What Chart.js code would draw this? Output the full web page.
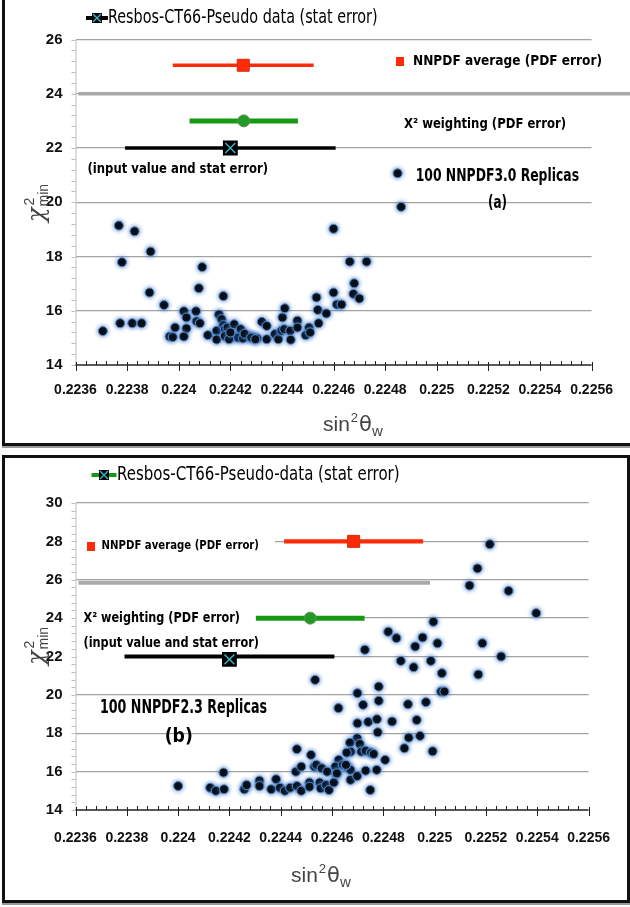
<!DOCTYPE html>
<html><head><meta charset="utf-8">
<script src="https://cdn.jsdelivr.net/npm/chart.js@4.4.1/dist/chart.umd.min.js"></script>
<style>
html,body{margin:0;padding:0;background:#fff;}
body{width:630px;height:907px;position:relative;overflow:hidden;}
canvas{position:absolute;left:0;}
.fr{position:absolute;pointer-events:none;background:#111;}
</style></head>
<body>
<canvas id="ca" width="630" height="443" style="top:0"></canvas>
<canvas id="cb" width="630" height="440" style="top:459px"></canvas>
<div class="fr" style="left:2px;top:0;width:3px;height:446px"></div>
<div class="fr" style="left:2px;top:443px;width:628px;height:3px"></div>
<div class="fr" style="left:2px;top:446px;width:628px;height:2px;background:#9a9a9a"></div>
<div class="fr" style="left:2px;top:455px;width:628px;height:3px"></div>
<div class="fr" style="left:2px;top:455px;width:3px;height:448px"></div>
<div class="fr" style="left:627px;top:455px;width:3px;height:448px"></div>
<div class="fr" style="left:2px;top:900px;width:628px;height:3px"></div>
<div class="fr" style="left:2px;top:903px;width:628px;height:2px;background:#9a9a9a"></div>
<script>
// ---------- data ----------
const xMin = 0.2236, xMax = 0.2256, xStep = 0.0002;
const yRangeA = [14, 26];
const yRangeB = [14, 30];

const replicasAx = [0.223706,0.223773,0.223820,0.223856,0.223887,0.223943,0.223965,0.223977,0.223986,0.224020,0.224030,0.224030,0.224020,0.224078,0.224067,0.224069,0.224082,0.224173,0.224113,0.224147,0.224147,0.224156,0.224166,0.224173,0.224179,0.224189,0.224179,0.224215,0.224212,0.224240,0.224230,0.224266,0.224288,0.224304,0.224322,0.224195,0.224249,0.224200,0.224255,0.224281,0.224297,0.224341,0.224341,0.224373,0.224386,0.224398,0.224409,0.224402,0.224411,0.224432,0.224434,0.224460,0.224460,0.224492,0.224505,0.224509,0.224534,0.224539,0.224542,0.224572,0.224600,0.224613,0.224631,0.224680,0.224677,0.224700,0.223768,0.223780,0.223829,0.223891,0.224091,0.224600,0.224663,0.224728,0.224862];
const replicasAy = [15.25,15.54,15.54,15.54,16.67,16.21,15.05,15.03,15.38,15.98,15.75,15.35,15.05,16.83,15.98,15.61,15.54,16.54,15.10,15.26,14.94,15.86,15.69,15.47,15.32,15.38,15.07,15.50,15.05,15.32,15.01,15.07,15.01,14.98,15.59,14.95,14.98,15.20,15.15,15.01,14.95,15.44,14.95,15.14,14.95,15.26,15.32,15.75,16.09,15.26,14.93,15.63,15.38,15.10,15.38,15.20,16.49,16.03,15.54,15.90,16.67,16.23,16.23,17.01,16.62,16.45,19.14,17.79,18.93,18.18,17.61,19.02,17.81,17.81,19.83];

const replicasBx = [0.225215,0.225167,0.225136,0.225288,0.225396,0.224995,0.224819,0.224851,0.224953,0.224924,0.225011,0.225186,0.224728,0.224868,0.224985,0.224918,0.225259,0.225028,0.225170,0.224782,0.225025,0.225038,0.224534,0.224699,0.224782,0.224896,0.224966,0.224625,0.224721,0.224699,0.224741,0.224775,0.224778,0.224834,0.224930,0.224899,0.224943,0.224882,0.224992,0.224698,0.224670,0.224708,0.224673,0.224657,0.224714,0.224731,0.224752,0.224762,0.224807,0.224626,0.224613,0.224642,0.224657,0.224672,0.224617,0.224672,0.224698,0.224731,0.224774,0.224749,0.224000,0.224125,0.224147,0.224179,0.224177,0.224258,0.224267,0.224317,0.224317,0.224363,0.224382,0.224397,0.224416,0.224437,0.224463,0.224459,0.224480,0.224463,0.224480,0.224518,0.224512,0.224512,0.224531,0.224539,0.224552,0.224556,0.224560,0.224581,0.224577,0.224588,0.224607,0.224619,0.224654];
const replicasBy = [27.85,26.59,25.70,25.42,24.26,23.81,23.29,22.96,22.99,22.52,22.69,22.69,22.35,21.77,21.77,21.44,22.00,21.13,21.06,20.43,20.17,20.17,20.78,20.09,19.69,19.51,19.62,19.31,19.48,18.52,18.59,18.73,18.05,18.61,18.69,17.77,17.86,17.22,17.06,17.74,17.51,17.44,17.04,16.99,17.04,17.09,16.99,16.92,16.61,16.61,16.26,16.35,16.26,16.09,15.88,15.57,15.77,16.05,16.09,15.04,15.25,15.16,15.00,15.08,15.95,15.08,15.30,15.53,15.25,15.08,15.60,15.16,15.00,15.16,17.17,16.00,16.26,15.25,15.00,16.87,15.43,15.21,16.26,16.35,15.43,15.13,16.17,16.00,15.30,15.04,15.43,15.91,16.35];

// summary points: [NNPDF average, chi2 weighting, input value]
const summaryNames = ['NNPDF average (PDF error)', 'χ² weighting (PDF error)', 'input value and stat error'];
const centerA = [0.224250, 0.224252, 0.224200];
const halfErrA = [0.000273, 0.000210, 0.000408];
const levelA = [25.05, 23.0, 22.0];
const centerB = [0.224684, 0.224515, 0.224200];
const halfErrB = [0.000271, 0.000212, 0.000409];
const levelB = [28.0, 24.0, 22.0];
const markerLevelB = [28.0, 24.0, 21.85];

// ---------- drawing ----------
const FN = '"Liberation Sans Narrow","DejaVu Sans Condensed","Liberation Sans",sans-serif';
const TICKF = '"Liberation Sans","Arial",sans-serif';
const RED = '#ff2a08', GREEN = '#169a16', CYAN = '#3cb6c8', GRID = '#a3a3a3';

function fitText(ctx, txt, x0, x1, y, font, color) {
  ctx.save();
  ctx.font = font; ctx.fillStyle = color || '#000';
  ctx.textAlign = 'left'; ctx.textBaseline = 'middle';
  const w = ctx.measureText(txt).width;
  ctx.translate(x0, y); ctx.scale((x1 - x0) / w, 1);
  ctx.fillText(txt, 0, 0);
  ctx.restore();
}
function xBox(ctx, x, y, s) {
  ctx.save();
  ctx.fillStyle = '#000'; ctx.fillRect(x - s / 2, y - s / 2, s, s);
  ctx.strokeStyle = CYAN; ctx.lineWidth = 1.4;
  ctx.beginPath();
  ctx.moveTo(x - s / 2 + 1, y - s / 2 + 1); ctx.lineTo(x + s / 2 - 1, y + s / 2 - 1);
  ctx.moveTo(x + s / 2 - 1, y - s / 2 + 1); ctx.lineTo(x - s / 2 + 1, y + s / 2 - 1);
  ctx.stroke(); ctx.restore();
}
function dot(ctx, x, y) {
  ctx.save();
  ctx.shadowColor = 'rgba(60,120,200,0.9)'; ctx.shadowBlur = 4;
  ctx.fillStyle = '#000'; ctx.strokeStyle = '#5b8cc4'; ctx.lineWidth = 1;
  ctx.beginPath(); ctx.arc(x, y, 4.5, 0, Math.PI * 2); ctx.fill(); ctx.stroke();
  ctx.restore();
}

function panelPlugin(cfg) {
  return {
    id: 'panel' + cfg.id,
    beforeDatasetsDraw(chart) {
      const { ctx, chartArea: ca, scales: { x, y } } = chart;
      ctx.save();
      // white masks behind labels
      ctx.fillStyle = '#fff';
      cfg.masks.forEach(m => {
        const py = y.getPixelForValue(m.v);
        ctx.fillRect(ca.left + 1, py - 3, m.x1 - ca.left - 1, 6);
      });
      // thick gray line
      const t = cfg.thick;
      const ty = y.getPixelForValue(t.v) + t.dy;
      ctx.strokeStyle = '#a9a9a9'; ctx.lineWidth = t.w;
      ctx.beginPath(); ctx.moveTo(ca.left + 3, ty); ctx.lineTo(t.x1, ty); ctx.stroke();
      // y axis line + minor ticks
      ctx.strokeStyle = '#bdbdbd'; ctx.lineWidth = 1;
      ctx.beginPath(); ctx.moveTo(ca.left + 0.5, ca.top); ctx.lineTo(ca.left + 0.5, ca.bottom); ctx.stroke();
      const [ymn, ymx] = [y.min, y.max];
      ctx.beginPath();
      for (let k = 0; k <= (ymx - ymn) / 0.4 + 0.01; k++) {
        const py = Math.round(y.getPixelForValue(ymn + k * 0.4)) + 0.5;
        ctx.moveTo(ca.left - 4, py); ctx.lineTo(ca.left, py);
      }
      ctx.stroke();
      // x axis line + ticks
      ctx.strokeStyle = '#222'; ctx.lineWidth = 1.5;
      ctx.beginPath(); ctx.moveTo(ca.left, ca.bottom); ctx.lineTo(ca.right, ca.bottom); ctx.stroke();
      ctx.lineWidth = 1;
      ctx.beginPath();
      const nMinor = Math.round((xMax - xMin) / (xStep / 5));
      for (let k = 0; k <= nMinor; k++) {
        const px = Math.round(x.getPixelForValue(xMin + k * xStep / 5)) + 0.5;
        if (k % 5 === 0) { ctx.moveTo(px, ca.bottom - 3); ctx.lineTo(px, ca.bottom + 6); }
        else { ctx.moveTo(px, ca.bottom - 4); ctx.lineTo(px, ca.bottom); }
      }
      ctx.stroke();
      ctx.restore();
    },
    beforeDatasetDraw(chart, args) {
      if (args.meta._dataset.isReplica) {
        chart.ctx.save();
        chart.ctx.shadowColor = 'rgba(60,120,200,0.9)';
        chart.ctx.shadowBlur = 4;
      }
    },
    afterDatasetDraw(chart, args) {
      if (args.meta._dataset.isReplica) chart.ctx.restore();
    },
    afterDraw(chart) {
      const ctx = chart.ctx;
      // legend
      const L = cfg.legend;
      ctx.save();
      ctx.strokeStyle = L.color; ctx.lineWidth = 4;
      ctx.beginPath(); ctx.moveTo(L.m0, L.y); ctx.lineTo(L.m1, L.y); ctx.stroke();
      ctx.restore();
      xBox(ctx, (L.m0 + L.m1) / 2, L.y, 10);
      fitText(ctx, L.text, L.t0, L.t1, L.y, '19px ' + FN, '#000');
      // text labels
      cfg.labels.forEach(l => fitText(ctx, l.text, l.x0, l.x1, l.y, l.font, '#000'));
      // red legend square
      ctx.fillStyle = RED;
      ctx.fillRect(cfg.redSq[0] - 4, cfg.redSq[1] - 4, 8, 9);
      if (cfg.dot) dot(ctx, cfg.dot[0], cfg.dot[1]);
      // x title
      const xt = cfg.xTitle;
      ctx.save();
      ctx.fillStyle = '#444'; ctx.textBaseline = 'alphabetic'; ctx.textAlign = 'left';
      let cx = xt.x, by = xt.y + 7;
      ctx.font = '21px "Liberation Sans",sans-serif';
      ctx.fillText('sin', cx, by); cx += ctx.measureText('sin').width;
      ctx.font = '13px "Liberation Sans",sans-serif';
      ctx.fillText('2', cx + 1, by - 9); cx += ctx.measureText('2').width + 2;
      ctx.font = '21px "DejaVu Sans",sans-serif';
      ctx.fillText('θ', cx, by); cx += ctx.measureText('θ').width;
      ctx.font = '15px "Liberation Sans",sans-serif';
      ctx.fillText('w', cx, by + 5);
      ctx.restore();
      // y title
      const yt = cfg.yTitle;
      ctx.save();
      ctx.translate(yt.x, yt.y); ctx.rotate(-Math.PI / 2);
      ctx.fillStyle = '#444'; ctx.textBaseline = 'alphabetic'; ctx.textAlign = 'left';
      ctx.font = 'italic 24px "DejaVu Serif",serif';
      ctx.fillText('χ', -20, 8);
      const w = ctx.measureText('χ').width;
      ctx.font = '14px "Liberation Sans",sans-serif';
      ctx.fillText('2', -20 + w + 2, -2);
      ctx.fillText('min', -20 + w + 1, 12);
      ctx.restore();
    }
  };
}

function buildChart(id, cfg) {
  const datasets = [
    { label: 'avg', data: [{ x: cfg.center[0], y: cfg.mlevel[0] }], pointStyle: 'rect', pointRadius: 8.5,
      backgroundColor: RED, borderColor: '#d33010', borderWidth: 1, order: 0 },
    { label: 'w', data: [{ x: cfg.center[1], y: cfg.mlevel[1] }], pointStyle: 'circle', pointRadius: 6,
      backgroundColor: '#239a23', borderColor: '#5e8e5e', borderWidth: 1, order: 0 },
    { label: 'inbox', data: [{ x: cfg.center[2], y: cfg.mlevel[2] }], pointStyle: 'rect', pointRadius: 10.5,
      backgroundColor: '#000', borderColor: '#000', borderWidth: 0, order: 0 },
    { label: 'inx', data: [{ x: cfg.center[2], y: cfg.mlevel[2] }], pointStyle: 'crossRot', pointRadius: 7,
      backgroundColor: CYAN, borderColor: CYAN, borderWidth: 1.4, order: -1 },
  ];
  const barColors = [RED, GREEN, '#000'];
  const barWidths = cfg.barW;
  cfg.center.forEach((c, i) => datasets.push({
    type: 'line', label: 'bar' + i,
    data: [{ x: c - cfg.half[i], y: cfg.level[i] }, { x: c + cfg.half[i], y: cfg.level[i] }],
    borderColor: barColors[i], borderWidth: barWidths[i], pointRadius: 0, showLine: true, order: 1
  }));
  datasets.push({
    label: 'replicas', isReplica: true,
    data: cfg.rx.map((v, i) => ({ x: v, y: cfg.ry[i] })),
    pointRadius: 4.5, pointStyle: 'circle', backgroundColor: '#000', borderColor: '#5b8cc4', borderWidth: 1, order: 2
  });
  return new Chart(document.getElementById(id), {
    type: 'scatter',
    data: { datasets },
    options: {
      responsive: false, animation: false, devicePixelRatio: 1,
      layout: { padding: { top: cfg.padTop, right: cfg.padRight, left: 0, bottom: 0 } },
      plugins: { legend: { display: false }, tooltip: { enabled: false } },
      scales: {
        x: {
          type: 'linear', min: xMin, max: xMax,
          afterFit: s => { s.height = cfg.xHeight; },
          grid: { display: false, drawTicks: false }, border: { display: false },
          ticks: {
            stepSize: xStep, autoSkip: false, maxRotation: 0, padding: cfg.xPad,
            color: '#111', font: { family: TICKF, size: 14, weight: 'bold' },
            callback: v => String(+(+v).toFixed(4))
          }
        },
        y: {
          type: 'linear', min: cfg.yr[0], max: cfg.yr[1],
          afterFit: s => { s.width = 75.5; },
          grid: { drawTicks: false, lineWidth: 1.3,
            color: c => (c.tick && c.tick.value === cfg.yr[0]) ? 'rgba(0,0,0,0)' : GRID },
          border: { display: false },
          ticks: { stepSize: 2, padding: 13, color: '#111', font: { family: TICKF, size: 15, weight: 'bold' } }
        }
      }
    },
    plugins: [panelPlugin(cfg)]
  });
}

buildChart('ca', {
  id: 'A', rx: replicasAx, ry: replicasAy, yr: yRangeA,
  center: centerA, half: halfErrA, level: levelA, mlevel: levelA, barW: [3.5, 5, 3.5],
  padTop: 39.5, padRight: 32.4, xHeight: 78, xPad: 17,
  masks: [],
  thick: { v: 24, dy: 0, w: 3.5, x1: 630 },
  legend: { color: '#000', m0: 86, m1: 108, y: 18, text: 'Resbos-CT66-Pseudo data (stat error)', t0: 108, t1: 377.5 },
  labels: [
    { text: 'NNPDF average (PDF error)', x0: 413, x1: 602, y: 61.7, font: 'bold 14px ' + FN },
    { text: 'X² weighting (PDF error)', x0: 404, x1: 566, y: 124, font: 'bold 14px ' + FN },
    { text: '(input value and stat error)', x0: 87.5, x1: 268, y: 169.3, font: 'bold 14px ' + FN },
    { text: '100 NNPDF3.0 Replicas', x0: 415.7, x1: 579, y: 176.7, font: 'bold 18px ' + FN },
    { text: '(a)', x0: 488, x1: 507, y: 203, font: 'bold 18px ' + FN }
  ],
  redSq: [400, 61], dot: [397.6, 173.3],
  xTitle: { x: 323, y: 424 }, yTitle: { x: 36, y: 202 }
});

buildChart('cb', {
  id: 'B', rx: replicasBx, ry: replicasBy, yr: yRangeB,
  center: centerB, half: halfErrB, level: levelB, mlevel: markerLevelB, barW: [4.3, 5, 4],
  padTop: 44, padRight: 29, xHeight: 89, xPad: 20,
  masks: [{ v: 28, x1: 275 }, { v: 24, x1: 257 }, { v: 22, x1: 125 }],
  thick: { v: 26, dy: 3, w: 4, x1: 430 },
  legend: { color: GREEN, m0: 91.5, m1: 116.5, y: 16, text: 'Resbos-CT66-Pseudo-data (stat error)', t0: 117, t1: 399.6 },
  labels: [
    { text: 'NNPDF average (PDF error)', x0: 101.6, x1: 259, y: 87, font: '600 13px ' + FN },
    { text: 'X² weighting (PDF error)', x0: 83.5, x1: 240, y: 159.3, font: 'bold 14px ' + FN },
    { text: '(input value and stat error)', x0: 83.5, x1: 259, y: 184.3, font: 'bold 14px ' + FN },
    { text: '100 NNPDF2.3 Replicas', x0: 100, x1: 267, y: 248.7, font: 'bold 19px ' + FN },
    { text: '(b)', x0: 164.7, x1: 192.8, y: 277.7, font: 'bold 19px ' + FN }
  ],
  redSq: [91, 87], dot: null,
  xTitle: { x: 291, y: 416 }, yTitle: { x: 36, y: 186 }
});
</script>
</body></html>
